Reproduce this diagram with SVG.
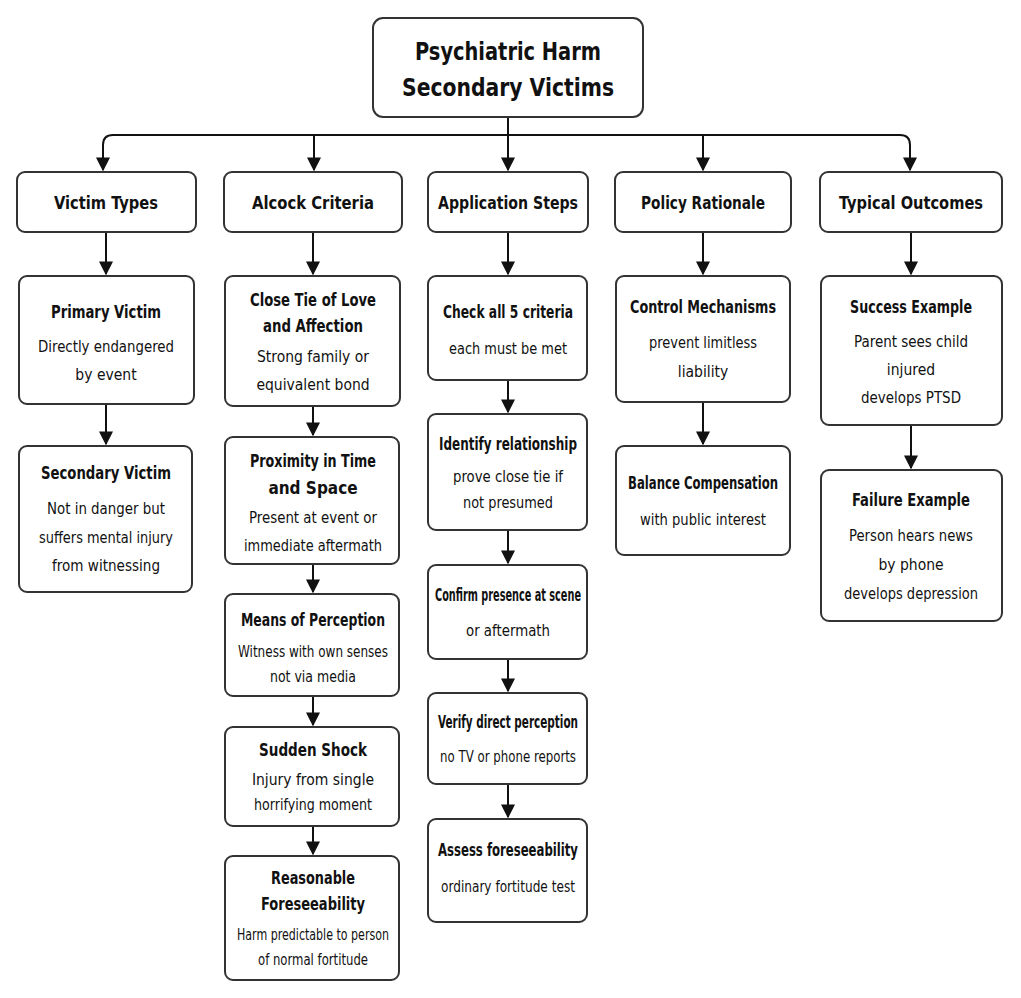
<svg xmlns="http://www.w3.org/2000/svg" width="1021" height="998" viewBox="0 0 1021 998">
<style>
rect{fill:#fff;stroke:#333;stroke-width:2}
text{font-family:"DejaVu Sans Condensed","Roboto",sans-serif;text-anchor:middle;fill:#111}
.t{font-weight:bold;font-size:17px}
.b{font-size:15.5px}
.c{font-weight:bold;font-size:18px}
.r{font-weight:bold;font-size:25px}
.e{fill:none;stroke:#111;stroke-width:2;marker-end:url(#a)}
</style>
<defs><marker id="a" viewBox="0 0 10 10" refX="9" refY="5" markerWidth="7" markerHeight="7" orient="auto"><path d="M0,0L10,5L0,10z" fill="#111"/></marker></defs>
<rect width="1021" height="998" style="fill:#fff;stroke:none"/>
<g id="connectors">
<path class="e" d="M508,117V135" style="marker-end:none"/>
<path class="e" d="M508,135H113Q103,135 103,145V170"/>
<path class="e" d="M508,135H900Q910,135 910,145V170"/>
<path class="e" d="M314,135V170"/><path class="e" d="M508,135V170"/><path class="e" d="M703,135V170"/>
<path class="e" d="M106,232V274"/><path class="e" d="M106,404V444"/>
<path class="e" d="M313,232V274"/><path class="e" d="M313,406V435"/><path class="e" d="M313,564V592"/><path class="e" d="M313,696V725"/><path class="e" d="M313,826V854"/>
<path class="e" d="M508,232V274"/><path class="e" d="M508,380V412"/><path class="e" d="M508,530V563"/><path class="e" d="M508,659V691"/><path class="e" d="M508,784V817"/>
<path class="e" d="M703,232V274"/><path class="e" d="M703,402V444"/>
<path class="e" d="M911,232V274"/><path class="e" d="M911,425V468"/>
</g>
<g id="root"><rect x="373" y="18" width="270" height="99" rx="10"/><text class="r" x="508" y="60" textLength="186" lengthAdjust="spacingAndGlyphs">Psychiatric Harm</text><text class="r" x="508" y="96" textLength="212" lengthAdjust="spacingAndGlyphs">Secondary Victims</text></g>
<g id="victim-types"><rect x="17" y="172" width="179" height="60" rx="8"/><text class="c" x="106" y="209" textLength="104" lengthAdjust="spacingAndGlyphs">Victim Types</text></g>
<g id="alcock"><rect x="224" y="172" width="178" height="60" rx="8"/><text class="c" x="313" y="209" textLength="122" lengthAdjust="spacingAndGlyphs">Alcock Criteria</text></g>
<g id="application"><rect x="428" y="172" width="160" height="60" rx="8"/><text class="c" x="508" y="209" textLength="140" lengthAdjust="spacingAndGlyphs">Application Steps</text></g>
<g id="policy"><rect x="615" y="172" width="176" height="60" rx="8"/><text class="c" x="703" y="209" textLength="124" lengthAdjust="spacingAndGlyphs">Policy Rationale</text></g>
<g id="outcomes"><rect x="820" y="172" width="182" height="60" rx="8"/><text class="c" x="911" y="209" textLength="144" lengthAdjust="spacingAndGlyphs">Typical Outcomes</text></g>
<g id="primary"><rect x="19" y="276" width="175" height="128" rx="8"/><text class="t" x="106" y="318" textLength="110" lengthAdjust="spacingAndGlyphs">Primary Victim</text><text class="b" x="106" y="352" textLength="136" lengthAdjust="spacingAndGlyphs">Directly endangered</text><text class="b" x="106" y="380">by event</text></g>
<g id="secondary"><rect x="19" y="446" width="173" height="146" rx="8"/><text class="t" x="106" y="479" textLength="130" lengthAdjust="spacingAndGlyphs">Secondary Victim</text><text class="b" x="106" y="514" textLength="118" lengthAdjust="spacingAndGlyphs">Not in danger but</text><text class="b" x="106" y="543" textLength="134" lengthAdjust="spacingAndGlyphs">suffers mental injury</text><text class="b" x="106" y="571" textLength="108" lengthAdjust="spacingAndGlyphs">from witnessing</text></g>
<g id="closetie"><rect x="225" y="276" width="175" height="130" rx="8"/><text class="t" x="313" y="306" textLength="126" lengthAdjust="spacingAndGlyphs">Close Tie of Love</text><text class="t" x="313" y="332" textLength="100" lengthAdjust="spacingAndGlyphs">and Affection</text><text class="b" x="313" y="362">Strong family or</text><text class="b" x="313" y="390">equivalent bond</text></g>
<g id="proximity"><rect x="225" y="437" width="174" height="127" rx="8"/><text class="t" x="313" y="467" textLength="126" lengthAdjust="spacingAndGlyphs">Proximity in Time</text><text class="t" x="313" y="494">and Space</text><text class="b" x="313" y="523" textLength="128" lengthAdjust="spacingAndGlyphs">Present at event or</text><text class="b" x="313" y="551" textLength="138" lengthAdjust="spacingAndGlyphs">immediate aftermath</text></g>
<g id="means"><rect x="225" y="594" width="174" height="102" rx="8"/><text class="t" x="313" y="626" textLength="144" lengthAdjust="spacingAndGlyphs">Means of Perception</text><text class="b" x="313" y="657" textLength="150" lengthAdjust="spacingAndGlyphs">Witness with own senses</text><text class="b" x="313" y="682" textLength="86" lengthAdjust="spacingAndGlyphs">not via media</text></g>
<g id="sudden"><rect x="225" y="727" width="174" height="99" rx="8"/><text class="t" x="313" y="756" textLength="108" lengthAdjust="spacingAndGlyphs">Sudden Shock</text><text class="b" x="313" y="785">Injury from single</text><text class="b" x="313" y="810" textLength="118" lengthAdjust="spacingAndGlyphs">horrifying moment</text></g>
<g id="reasonable"><rect x="225" y="856" width="174" height="124" rx="8"/><text class="t" x="313" y="884" textLength="84" lengthAdjust="spacingAndGlyphs">Reasonable</text><text class="t" x="313" y="910" textLength="104" lengthAdjust="spacingAndGlyphs">Foreseeability</text><text class="b" x="313" y="940" textLength="152" lengthAdjust="spacingAndGlyphs">Harm predictable to person</text><text class="b" x="313" y="965" textLength="110" lengthAdjust="spacingAndGlyphs">of normal fortitude</text></g>
<g id="check"><rect x="428" y="276" width="159" height="104" rx="8"/><text class="t" x="508" y="318" textLength="130" lengthAdjust="spacingAndGlyphs">Check all 5 criteria</text><text class="b" x="508" y="354" textLength="118" lengthAdjust="spacingAndGlyphs">each must be met</text></g>
<g id="identify"><rect x="428" y="414" width="159" height="116" rx="8"/><text class="t" x="508" y="450" textLength="138" lengthAdjust="spacingAndGlyphs">Identify relationship</text><text class="b" x="508" y="482" textLength="110" lengthAdjust="spacingAndGlyphs">prove close tie if</text><text class="b" x="508" y="508" textLength="90" lengthAdjust="spacingAndGlyphs">not presumed</text></g>
<g id="confirm"><rect x="428" y="565" width="159" height="94" rx="8"/><text class="t" x="508" y="601" textLength="146" lengthAdjust="spacingAndGlyphs">Confirm presence at scene</text><text class="b" x="508" y="636" textLength="84" lengthAdjust="spacingAndGlyphs">or aftermath</text></g>
<g id="verify"><rect x="428" y="693" width="159" height="91" rx="8"/><text class="t" x="508" y="728" textLength="140" lengthAdjust="spacingAndGlyphs">Verify direct perception</text><text class="b" x="508" y="762" textLength="136" lengthAdjust="spacingAndGlyphs">no TV or phone reports</text></g>
<g id="assess"><rect x="428" y="819" width="159" height="103" rx="8"/><text class="t" x="508" y="856" textLength="140" lengthAdjust="spacingAndGlyphs">Assess foreseeability</text><text class="b" x="508" y="892" textLength="134" lengthAdjust="spacingAndGlyphs">ordinary fortitude test</text></g>
<g id="control"><rect x="616" y="276" width="174" height="126" rx="8"/><text class="t" x="703" y="313" textLength="146" lengthAdjust="spacingAndGlyphs">Control Mechanisms</text><text class="b" x="703" y="348" textLength="108" lengthAdjust="spacingAndGlyphs">prevent limitless</text><text class="b" x="703" y="377">liability</text></g>
<g id="balance"><rect x="616" y="446" width="174" height="109" rx="8"/><text class="t" x="703" y="489" textLength="150" lengthAdjust="spacingAndGlyphs">Balance Compensation</text><text class="b" x="703" y="525" textLength="126" lengthAdjust="spacingAndGlyphs">with public interest</text></g>
<g id="success"><rect x="821" y="276" width="181" height="149" rx="8"/><text class="t" x="911" y="313" textLength="122" lengthAdjust="spacingAndGlyphs">Success Example</text><text class="b" x="911" y="347" textLength="114" lengthAdjust="spacingAndGlyphs">Parent sees child</text><text class="b" x="911" y="375">injured</text><text class="b" x="911" y="403" textLength="100" lengthAdjust="spacingAndGlyphs">develops PTSD</text></g>
<g id="failure"><rect x="821" y="470" width="181" height="151" rx="8"/><text class="t" x="911" y="506" textLength="118" lengthAdjust="spacingAndGlyphs">Failure Example</text><text class="b" x="911" y="541" textLength="124" lengthAdjust="spacingAndGlyphs">Person hears news</text><text class="b" x="911" y="570">by phone</text><text class="b" x="911" y="599" textLength="134" lengthAdjust="spacingAndGlyphs">develops depression</text></g>
</svg>
